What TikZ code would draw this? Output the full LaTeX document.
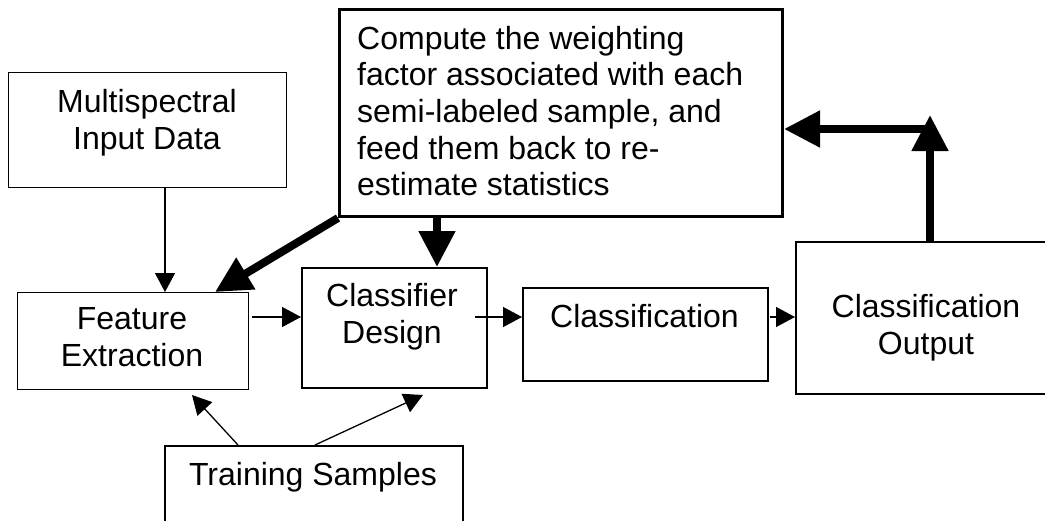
\documentclass[tikz,border=0pt]{standalone}
\usepackage{fontspec}
\setmainfont{Liberation Sans}
\usetikzlibrary{arrows.meta,calc}
\begin{document}
\begin{tikzpicture}[x=1pt,y=-1pt,
  box/.style={draw=black,rectangle,inner sep=0pt,anchor=north west},
  txt/.style={font=\fontsize{32}{36.7}\selectfont,inner sep=0pt,align=center},
  thin/.style={line width=1.3pt,-{Triangle[length=19pt,width=20pt]}},
  thick/.style={line width=8pt,-{Triangle[length=36pt,width=35pt]}}]
\clip (0,0) rectangle (1045,520);
\fill[white] (0,0) rectangle (1045,520);
% boxes
\node[box,line width=1.3pt,minimum width=278pt,minimum height=115pt] (ms) at (8,72) {};
\node[box,line width=3pt,minimum width=443pt,minimum height=207pt] (cp) at (338,8) {};
\node[box,line width=1pt,minimum width=231pt,minimum height=97pt] (fe) at (17,292) {};
\node[box,line width=2pt,minimum width=185pt,minimum height=120pt] (cd) at (301,267) {};
\node[box,line width=2pt,minimum width=245pt,minimum height=93pt] (cl) at (522,287) {};
\node[box,line width=2pt,minimum width=280pt,minimum height=152pt] (co) at (795,241) {};
\node[box,line width=1.5pt,minimum width=298pt,minimum height=120pt] (ts) at (164,445) {};
% texts
\node[txt] (mst) at (147,123) {Multispectral\\Input Data};
\node[txt,align=left,anchor=west] (cpt) at (357,111) {Compute the weighting\\factor associated with each\\semi-labeled sample, and\\feed them back to re-\\estimate statistics};
\node[txt] (fet) at (132,337) {Feature\\Extraction};
\node[txt] (cdt) at (392,316.5) {Classifier\\Design};
\node[txt] (clt) at (644.5,316) {Classification};
\node[txt] (cot) at (926,328) {Classification\\Output};
\node[txt] (tst) at (313,477) {Training Samples};
% connector end points
\coordinate (msb) at (ms.south -| 165,0);
\coordinate (fetop) at (fe.north -| 165,0);
\coordinate (fetop2) at (fe.north -| 215,0);
\coordinate (cdtop) at (cd.north -| 437,0);
\coordinate (cpb) at (cp.south -| 437,0);
\coordinate (fer) at (252,317);
\coordinate (cdl) at (cd.west |- 0,317);
\coordinate (cdr) at (475,317);
\coordinate (cll) at (cl.west |- 0,317);
\coordinate (clr) at (770,317);
\coordinate (col) at (co.west |- 0,317);
\coordinate (cotop) at (co.north -| 930,0);
\coordinate (uptip) at (930,115);
\coordinate (corner) at (930,129);
\coordinate (cpr) at (cp.east |- 0,129);
\coordinate (ts1) at (238,445);
\coordinate (ts2) at (315,445);
\coordinate (febot) at (192,395);
\coordinate (cdbot) at (423,395);
% connectors
\draw[thin] (msb) -- (fetop);
\draw[thick] (cp.south west) -- (fetop2);
\draw[thick] (cpb) -- (cdtop);
\draw[thin] (fer) -- (cdl);
\draw[thin] (cdr) -- (cll);
\draw[thin] (clr) -- (col);
\draw[thick] (cotop) -- (uptip);
\draw[thick] (corner) -- (cpr);
\draw[thin] (ts1) -- (febot);
\draw[thin] (ts2) -- (cdbot);
\end{tikzpicture}
\end{document}
